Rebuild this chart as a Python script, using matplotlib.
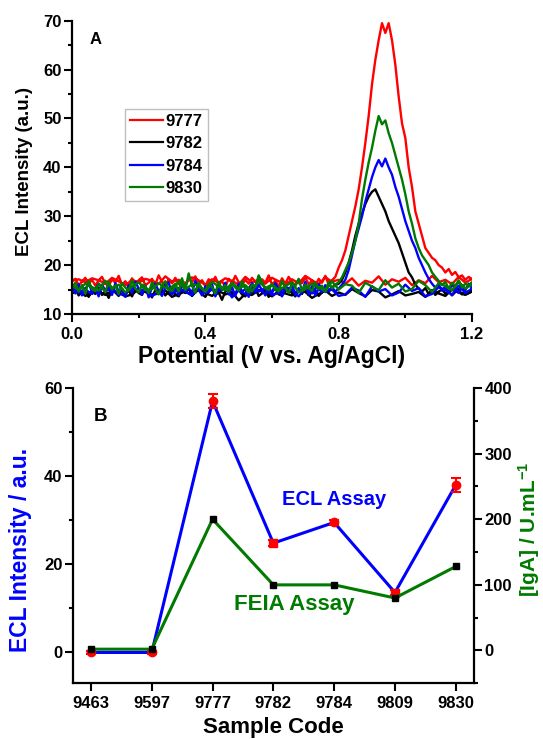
import numpy as np
import matplotlib
matplotlib.use("Agg")
import matplotlib.pyplot as plt
from matplotlib.ticker import MultipleLocator

plt.rcParams['font.family'] = ['Liberation Sans', 'DejaVu Sans']
plt.rcParams['font.weight'] = 'bold'
plt.rcParams['axes.labelweight'] = 'bold'
plt.rcParams['mathtext.fontset'] = 'custom'
plt.rcParams['mathtext.rm'] = 'Liberation Sans:bold'
plt.rcParams['mathtext.it'] = 'Liberation Sans:bold'
plt.rcParams['mathtext.bf'] = 'Liberation Sans:bold'

# ---------------- Panel A: ECL potential scans ----------------
# forward sweep 0.00 -> 1.20 V (0.01 V step), reverse sweep 1.20 -> 0.00 V (0.02 V step)
potential_fwd = np.round(np.arange(121) * 0.01, 2)
potential_rev = np.round(1.2 - np.arange(61) * 0.02, 2)

sample_labels = ['9777', '9782', '9784', '9830']
sample_colors = ['#ff0000', '#000000', '#0000ff', '#007a00']

ecl_9777_fwd = [
    16.8, 17.2, 15.9, 16.6, 17.4, 16.1, 17.0, 15.8, 16.9, 17.6,
    16.2, 15.7, 17.1, 16.4, 17.8, 16.0, 16.7, 15.5, 17.3, 16.3,
    16.9, 17.5, 15.9, 16.4, 17.2, 16.0, 17.9, 16.6, 15.8, 17.0,
    16.3, 17.4, 16.1, 16.8, 15.6, 17.3, 16.5, 17.7, 16.2, 16.9,
    15.8, 17.1, 16.4, 17.6, 16.0, 16.7, 15.6, 17.2, 16.3, 17.8,
    16.5, 15.9, 17.0, 16.2, 17.4, 16.6, 15.7, 17.1, 16.4, 17.9,
    16.0, 16.8, 15.6, 17.3, 16.2, 17.6, 16.5, 15.9, 17.0, 16.3,
    17.5, 16.1, 16.8, 15.7, 17.2, 16.4, 17.8, 16.0, 16.9, 17.6,
    19.5, 21.0, 23.0, 26.0, 29.0, 32.0, 35.5, 40.0, 45.0, 50.5,
    57.0, 62.0, 66.0, 69.5, 67.5, 69.5, 66.0, 61.0, 54.5, 49.0,
    46.0, 40.0, 36.0, 31.0, 28.5, 26.0, 23.5, 22.5, 21.5, 21.0,
    20.0, 19.5, 18.5, 19.2, 18.0, 18.6, 17.5, 17.9, 17.0, 17.6,
    17.1,
]
ecl_9777_rev = [
    17.2, 16.4, 17.6, 16.1, 17.0, 16.5, 17.8, 16.3, 16.9, 15.9,
    17.4, 16.6, 17.1, 16.0, 17.7, 16.4, 16.8, 15.8, 17.3, 16.2,
    17.0, 16.6, 17.5, 16.1, 16.9, 17.8, 16.3, 17.1, 15.9, 16.7,
    17.4, 16.2, 17.0, 16.5, 17.6, 16.0, 16.8, 17.3, 16.4, 17.1,
    15.9, 16.9, 17.5, 16.3, 17.0, 16.6, 17.7, 16.1, 16.8, 17.2,
    16.4, 17.0, 15.8, 16.7, 17.4, 16.2, 16.9, 17.3, 16.5, 17.1,
    16.8,
]

ecl_9782_fwd = [
    14.2, 15.1, 13.8, 14.6, 15.3, 13.5, 14.9, 14.1, 15.4, 13.9,
    14.7, 13.3, 15.0, 14.4, 13.7, 15.2, 14.0, 14.8, 13.6, 15.1,
    14.3, 13.9, 15.5, 14.5, 13.4, 14.9, 14.2, 15.0, 13.8, 14.6,
    15.3, 14.0, 13.6, 14.8, 14.3, 15.2, 13.7, 14.5, 15.0, 14.1,
    13.5, 14.7, 15.4, 13.9, 14.4, 12.9, 14.6, 15.1, 13.8, 14.3,
    15.0, 14.0, 13.6, 14.9, 14.4, 15.3, 13.7, 14.2, 14.8, 13.5,
    14.6, 15.2, 14.0, 13.8, 14.7, 15.1, 14.3, 13.6, 14.9, 14.1,
    15.4, 13.9, 14.5, 14.8, 13.7, 14.4, 15.2, 14.6, 15.5, 15.9,
    16.2, 17.0, 18.5, 20.5, 23.0, 26.0, 28.5, 30.5, 32.5, 34.0,
    35.0, 35.5, 34.0, 32.5, 31.0, 29.0, 27.5, 26.0, 24.5, 22.5,
    20.5, 18.5, 17.5, 16.0, 15.2, 14.6, 15.3, 14.1, 14.8, 13.9,
    14.6, 15.0, 14.2, 14.7, 13.8, 14.5, 15.1, 14.0, 14.6, 14.3,
    14.8,
]
ecl_9782_rev = [
    14.6, 13.9, 14.4, 15.0, 13.7, 14.2, 14.8, 13.5, 14.5, 14.1,
    13.8, 14.7, 14.0, 13.4, 14.6, 14.9, 13.6, 14.3, 15.1, 13.9,
    14.4, 13.7, 14.8, 14.1, 13.3, 14.5, 15.0, 13.8, 14.2, 14.7,
    13.6, 14.4, 14.9, 13.9, 14.1, 12.8, 14.5, 14.0, 14.7, 13.7,
    14.3, 15.0, 13.8, 14.6, 14.1, 13.5, 14.8, 14.2, 13.9, 14.5,
    15.1, 14.0, 13.6, 14.4, 14.8, 13.9, 14.6, 14.2, 13.7, 14.9,
    14.3,
]

ecl_9784_fwd = [
    15.6, 14.2, 16.1, 13.8, 15.0, 16.4, 14.5, 15.3, 13.6, 16.0,
    14.8, 15.7, 13.9, 16.3, 14.6, 15.1, 13.5, 15.9, 14.3, 16.6,
    15.2, 14.0, 15.8, 13.4, 15.5, 16.2, 14.7, 13.7, 15.4, 16.5,
    14.1, 15.6, 13.9, 16.0, 14.8, 15.3, 14.4, 16.8, 15.0, 13.8,
    15.7, 14.5, 16.1, 13.6, 15.2, 14.9, 16.4, 14.0, 15.5, 13.7,
    16.2, 14.6, 15.1, 13.5, 15.8, 14.3, 16.0, 14.9, 13.8, 15.6,
    14.2, 16.3, 15.0, 13.6, 15.4, 14.7, 16.1, 13.9, 15.3, 14.5,
    16.6, 14.0, 15.7, 13.8, 15.2, 14.4, 15.9, 14.8, 15.5, 14.6,
    15.2, 16.0, 17.0, 19.0, 22.0, 25.0, 27.5, 30.0, 33.0, 35.5,
    38.0, 40.0, 41.5, 40.2, 41.8, 40.0, 38.5, 36.0, 34.0, 31.5,
    29.0, 27.0, 25.0, 23.5, 21.5, 20.0, 18.5, 17.2, 16.2, 15.4,
    16.0, 14.8, 15.6, 14.5, 16.1, 15.0, 14.3, 15.7, 14.9, 16.2,
    15.3,
]
ecl_9784_rev = [
    15.2, 14.3, 15.8, 13.9, 14.9, 15.5, 14.1, 13.6, 15.3, 14.7,
    16.0, 14.4, 13.8, 15.1, 14.6, 15.7, 13.5, 14.8, 15.4, 14.0,
    13.7, 15.0, 14.5, 16.1, 14.2, 15.3, 13.6, 14.9, 15.6, 14.3,
    13.9, 15.2, 14.6, 16.3, 14.1, 14.8, 13.4, 15.5, 14.7, 15.0,
    14.2, 15.9, 13.8, 14.6, 15.3, 14.0, 16.0, 14.5, 13.7, 15.1,
    14.8, 15.6, 14.3, 13.9, 15.4, 14.6, 16.2, 14.1, 15.0, 14.4,
    15.3,
]

ecl_9830_fwd = [
    15.3, 16.4, 14.6, 15.9, 14.2, 16.8, 15.1, 14.7, 16.2, 15.5,
    14.4, 16.6, 15.0, 15.8, 14.1, 16.3, 15.4, 14.8, 16.9, 15.2,
    14.5, 16.0, 15.7, 14.3, 16.5, 15.1, 14.0, 15.9, 16.7, 14.9,
    15.6, 16.2, 14.6, 17.3, 15.0, 18.3, 15.8, 14.3, 16.4, 15.2,
    14.7, 16.1, 15.5, 14.2, 16.6, 15.0, 15.9, 14.5, 16.3, 15.4,
    14.8, 16.7, 15.2, 14.4, 16.0, 15.6, 17.9, 16.5, 15.3, 14.9,
    16.2, 15.0, 14.6, 16.8, 15.4, 14.3, 16.1, 15.7, 17.2, 14.8,
    16.0, 15.3, 14.7, 16.4, 15.1, 15.8, 14.5, 16.6, 15.2, 16.0,
    16.5, 17.5, 19.0, 20.5, 22.5, 25.0, 28.5, 33.5, 37.5, 41.0,
    44.0, 47.5, 50.5, 48.8, 49.6, 47.0, 45.0, 42.5, 40.0, 37.5,
    34.5, 31.0, 28.5, 25.5, 23.5, 22.0, 21.0, 20.0, 18.5, 17.6,
    16.8, 15.9, 16.6, 15.2, 16.4, 15.7, 16.9, 15.4, 16.2, 15.8,
    16.5,
]
ecl_9830_rev = [
    16.0, 15.2, 16.6, 14.8, 15.7, 16.3, 14.5, 15.9, 16.8, 15.1,
    14.6, 16.2, 15.4, 16.9, 14.9, 15.6, 16.4, 14.3, 15.8, 16.1,
    15.0, 16.7, 14.7, 15.5, 16.2, 15.1, 14.4, 16.5, 15.7, 14.9,
    16.0, 15.3, 16.8, 14.6, 15.9, 15.2, 16.4, 14.8, 15.6, 16.6,
    14.5, 15.8, 16.1, 15.0, 16.7, 14.7, 15.4, 16.3, 15.1, 14.9,
    16.5, 15.6, 14.4, 16.0, 15.3, 16.8, 14.8, 15.5, 16.2, 15.0,
    15.7,
]

scans = [
    (ecl_9777_fwd, ecl_9777_rev),
    (ecl_9782_fwd, ecl_9782_rev),
    (ecl_9784_fwd, ecl_9784_rev),
    (ecl_9830_fwd, ecl_9830_rev),
]

# ---------------- Panel B: ECL vs FEIA by sample ----------------
sample_codes = ['9463', '9597', '9777', '9782', '9784', '9809', '9830']
ecl_intensity = [0.0, 0.0, 57.0, 24.8, 29.5, 13.6, 38.0]
ecl_error = [0.3, 0.3, 1.6, 0.6, 0.5, 0.6, 1.6]
ecl_marker = ['o', 'o', 'o', 's', 'o', 's', 'o']
feia_iga = [2, 2, 200, 100, 100, 80, 128]

fig = plt.figure(figsize=(5.43, 7.39), dpi=100)
W, H = 543.0, 739.0

def style_ticks(ax, which_sides):
    ax.tick_params(axis='both', which='major', direction='out', length=5.5,
                   width=1.5, labelsize=12, pad=2)
    ax.tick_params(axis='both', which='minor', direction='out', length=3,
                   width=1.5)
    for s in ['top', 'right', 'left', 'bottom']:
        ax.spines[s].set_visible(s in which_sides)
        ax.spines[s].set_linewidth(1.6)

# Panel A
axA = fig.add_axes([72 / W, 1 - 314 / H, 400 / W, 293.3 / H])
for (fwd, rev), lab, col in zip(scans, sample_labels, sample_colors):
    x = np.concatenate([potential_fwd, potential_rev])
    y = np.concatenate([fwd, rev])
    axA.plot(x, y, color=col, lw=1.7, label=lab)
axA.set_xlim(0, 1.2)
axA.set_ylim(10, 70)
axA.xaxis.set_minor_locator(MultipleLocator(0.2))
axA.yaxis.set_major_locator(MultipleLocator(10))
axA.yaxis.set_minor_locator(MultipleLocator(5))
axA.set_xticks([0.0, 0.4, 0.8, 1.2])
axA.set_xticklabels(['0.0', '0.4', '0.8', '1.2'])
style_ticks(axA, ['left', 'bottom'])
axA.tick_params(axis='x', which='major', pad=4)
axA.set_xlabel('Potential (V vs. Ag/AgCl)', fontsize=16.5)
axA.xaxis.set_label_coords(0.5, -0.105)
axA.set_ylabel('ECL Intensity (a.u.)', fontsize=13.5)
axA.yaxis.set_label_coords(-0.098, 0.485)
axA.text(0.06, 0.935, 'A', transform=axA.transAxes, fontsize=12,
         fontweight='bold', ha='center', va='center')
leg = axA.legend(loc='upper left', bbox_to_anchor=(0.1325, 0.70),
                 fontsize=12, frameon=True, fancybox=False,
                 handlelength=2.0, handletextpad=0.15, labelspacing=0.45,
                 borderpad=0.3, borderaxespad=0)
leg.get_frame().set_edgecolor('#b0b0b0')
leg.get_frame().set_linewidth(1.0)
for line in leg.get_lines():
    line.set_linewidth(1.6)

# Panel B
axB = fig.add_axes([72.7 / W, 1 - 683.3 / H, 401.3 / W, 295.3 / H])
idx = np.arange(len(sample_codes))
axB.plot(idx, ecl_intensity, color='#0000ff', lw=2.2, zorder=2)
axB.errorbar(idx, ecl_intensity, yerr=ecl_error, fmt='none', ecolor='#ff0000',
             elinewidth=1.5, capsize=3.5, capthick=1.5, zorder=3)
for i in idx:
    axB.plot(i, ecl_intensity[i], marker=ecl_marker[i], color='#ff0000',
             markersize=6 if ecl_marker[i] == 'o' else 5.5, ls='none', zorder=4)
axB.set_xlim(-0.3, 6.3)
axB.set_ylim(-7, 60)
axB.set_xticks(idx)
axB.set_xticklabels(sample_codes)
axB.yaxis.set_major_locator(MultipleLocator(20))
axB.yaxis.set_minor_locator(MultipleLocator(10))
style_ticks(axB, ['left', 'bottom'])
axB.tick_params(axis='x', which='major', pad=4)
axB.set_xlabel('Sample Code', fontsize=16)
axB.xaxis.set_label_coords(0.5, -0.113)
axB.set_ylabel('ECL Intensity / a.u.', fontsize=16.5, color='#0000ff')
axB.yaxis.set_label_coords(-0.102, 0.45)
axB.text(0.07, 0.905, 'B', transform=axB.transAxes, fontsize=13.5,
         fontweight='bold', ha='center', va='center')
axB.text(4.0, 34.7, 'ECL Assay', fontsize=14.5, fontweight='bold',
         color='#0000ff', ha='center', va='center')
axB.text(3.34, 10.8, 'FEIA Assay', fontsize=16, fontweight='bold',
         color='#007a00', ha='center', va='center')

axR = axB.twinx()
axR.plot(idx, feia_iga, color='#007a00', lw=2.2, marker='s', mfc='black',
         mec='black', markersize=5, zorder=3)
axR.set_ylim(-50, 400)
axR.yaxis.set_major_locator(MultipleLocator(100))
axR.yaxis.set_minor_locator(MultipleLocator(50))
style_ticks(axR, ['right'])
axR.set_ylabel(r'[IgA] / U.mL$^{-1}$', fontsize=15, color='#007a00')
axR.yaxis.set_label_coords(1.104, 0.52)

fig.savefig('out.png', dpi=100)
